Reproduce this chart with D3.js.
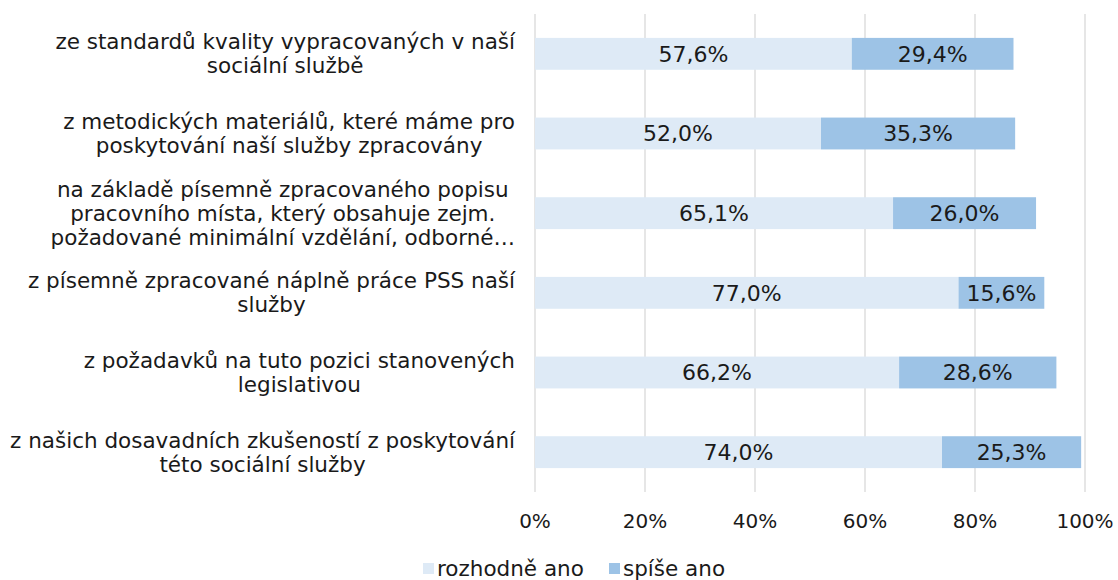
<!DOCTYPE html>
<html>
<head>
<meta charset="utf-8">
<script src="https://cdn.jsdelivr.net/npm/d3@7"></script>
<style>
  body { margin: 0; background: #fff; }
  svg text { font-family: "DejaVu Sans", Verdana, sans-serif; fill: #1a1a1a; }
</style>
</head>
<body>
<div id="chart"></div>
<script>
var categories = [
  "ze standardů kvality vypracovaných v naší\nsociální službě",
  "z metodických materiálů, které máme pro\nposkytování naší služby zpracovány",
  "na základě písemně zpracovaného popisu\npracovního místa, který obsahuje zejm.\npožadované minimální vzdělání, odborné…",
  "z písemně zpracované náplně práce PSS naší\nslužby",
  "z požadavků na tuto pozici stanovených\nlegislativou",
  "z našich dosavadních zkušeností z poskytování\ntéto sociální služby"
];
var seriesNames = ["rozhodně ano", "spíše ano"];
var rozhodneAno = [57.6, 52.0, 65.1, 77.0, 66.2, 74.0];
var spiseAno = [29.4, 35.3, 26.0, 15.6, 28.6, 25.3];
var tickValues = [0, 20, 40, 60, 80, 100];
var colors = ["#deeaf6", "#9dc3e6"];

var width = 1118,
    height = 580;
var plot = { left: 535, right: 1085, top: 14, bottom: 492 };
var labelFont = 21.5,
    valueFont = 22,
    axisFont = 20;

var svg = d3.select("#chart")
  .append("svg")
    .attr("width", width)
    .attr("height", height);

var x = d3.scaleLinear()
  .domain([0, 100])
  .range([plot.left, plot.right]);

var y = d3.scaleBand()
  .domain(d3.range(categories.length))
  .range([plot.top, plot.bottom])
  .paddingInner(0.6)
  .paddingOuter(0.3);

var formatPct = function(v) { return v.toFixed(1).replace(".", ",") + "%"; };

// gridlines
svg.append("g")
  .selectAll("line")
  .data(tickValues)
  .enter()
    .append("line")
    .attr("x1", function(d) { return x(d); })
    .attr("x2", function(d) { return x(d); })
    .attr("y1", plot.top)
    .attr("y2", plot.bottom)
    .attr("stroke", "#d9d9d9")
    .attr("stroke-width", 1.3);

// stacked rows
var rows = categories.map(function(c, i) {
  return [
    { start: 0, value: rozhodneAno[i], series: 0, index: i },
    { start: rozhodneAno[i], value: spiseAno[i], series: 1, index: i }
  ];
});
var segments = d3.merge(rows);

svg.append("g")
  .selectAll("rect")
  .data(segments)
  .enter()
    .append("rect")
    .attr("x", function(d) { return x(d.start); })
    .attr("width", function(d) { return x(d.start + d.value) - x(d.start); })
    .attr("y", function(d) { return y(d.index); })
    .attr("height", y.bandwidth())
    .attr("fill", function(d) { return colors[d.series]; });

svg.append("g")
  .selectAll("text")
  .data(segments)
  .enter()
    .append("text")
    .attr("x", function(d) { return x(d.start + d.value / 2); })
    .attr("y", function(d) { return y(d.index) + y.bandwidth() / 2; })
    .attr("dy", "0.35em")
    .attr("text-anchor", "middle")
    .attr("font-size", valueFont)
    .text(function(d) { return formatPct(d.value); });

// category labels: lines centred, block right-aligned
var lineHeight = 24,
    labelRight = 515;
var labels = svg.append("g")
  .selectAll("text")
  .data(categories)
  .enter()
    .append("text")
    .attr("text-anchor", "middle")
    .attr("font-size", labelFont);
labels.each(function(d, i) {
  var t = d3.select(this);
  var lines = d.split("\n");
  var y0 = y(i) + y.bandwidth() / 2 - (lines.length - 1) * lineHeight / 2;
  var spans = lines.map(function(line, k) {
    return t.append("tspan")
      .attr("y", y0 + k * lineHeight)
      .attr("dy", "0.35em")
      .text(line);
  });
  var maxW = d3.max(spans, function(s) { return s.node().getComputedTextLength(); });
  spans.forEach(function(s) { s.attr("x", labelRight - maxW / 2); });
});

// x axis labels
svg.append("g")
  .selectAll("text")
  .data(tickValues)
  .enter()
    .append("text")
    .attr("x", function(d) { return x(d); })
    .attr("y", 521)
    .attr("dy", "0.35em")
    .attr("text-anchor", "middle")
    .attr("font-size", axisFont)
    .text(function(d) { return d + "%"; });

// legend
var legendX = [423, 609];
var legend = svg.append("g")
  .selectAll("g")
  .data(seriesNames)
  .enter()
    .append("g")
    .attr("transform", function(d, i) { return "translate(" + legendX[i] + ",568)"; });
legend.append("rect")
  .attr("x", 0)
  .attr("y", -5)
  .attr("width", 11)
  .attr("height", 11)
  .attr("fill", function(d, i) { return colors[i]; });
legend.append("text")
  .attr("x", 14)
  .attr("dy", "0.35em")
  .attr("font-size", labelFont)
  .text(function(d) { return d; });
</script>
</body>
</html>
